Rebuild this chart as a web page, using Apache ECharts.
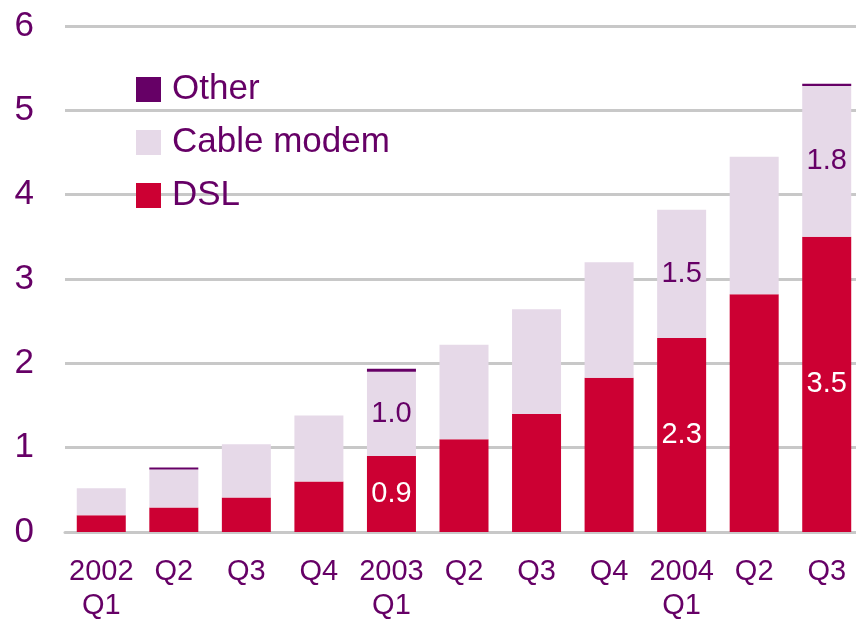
<!DOCTYPE html>
<html>
<head>
<meta charset="utf-8">
<script src="https://cdn.jsdelivr.net/npm/echarts@6/dist/echarts.min.js"></script>
<style>
  html, body { margin: 0; padding: 0; background: #fff; overflow: hidden; }
  #main { width: 870px; height: 623px; }
</style>
</head>
<body>
<div id="main"></div>
<script>
var categories = ['2002\nQ1', 'Q2', 'Q3', 'Q4', '2003\nQ1', 'Q2', 'Q3', 'Q4', '2004\nQ1', 'Q2', 'Q3'];
var dsl   = [0.20, 0.29, 0.41, 0.60, 0.90, 1.10, 1.40, 1.83, 2.30, 2.82, 3.50];
var cable = [0.32, 0.45, 0.63, 0.78, 1.00, 1.12, 1.24, 1.37, 1.52, 1.63, 1.79];
var other = [0, 0.025, 0, 0, 0.035, 0, 0, 0, 0, 0, 0.025];
// which bars carry a value label
var dslLabelIdx = [4, 8, 10];
var cableLabelIdx = [4, 8, 10];

var purple = '#660066';
var font = '"Liberation Sans", Arial, sans-serif';

var myChart = echarts.init(document.getElementById('main'));

function pick(idx) {
  return function (p) {
    return idx.indexOf(p.dataIndex) >= 0 ? p.value.toFixed(1) : '';
  };
}

var option = {
  animation: false,
  textStyle: { fontFamily: font },
  grid: { left: 65, top: 26, width: 798, height: 509 },
  legend: {
    orient: 'vertical',
    left: 136,
    top: 72,
    padding: 0,
    itemWidth: 25,
    itemHeight: 25,
    itemGap: 18,
    icon: 'rect',
    data: ['Other', 'Cable modem', 'DSL'],
    textStyle: { color: purple, fontSize: 35, fontFamily: font, padding: [0, 0, 0, 6] }
  },
  xAxis: {
    type: 'category',
    data: categories,
    axisLine: { lineStyle: { color: '#c8c8c8', width: 3 } },
    axisTick: { length: 8, lineStyle: { color: '#c8c8c8', width: 3 } },
    axisLabel: { color: purple, fontSize: 29, lineHeight: 34, margin: 23, fontFamily: font, interval: 0 }
  },
  yAxis: {
    type: 'value',
    min: 0,
    max: 6,
    interval: 1,
    axisLine: { show: false },
    axisTick: { show: false },
    splitLine: { lineStyle: { color: '#c8c8c8', width: 3 } },
    axisLabel: { color: purple, fontSize: 35, margin: 31, fontFamily: font }
  },
  series: [
    {
      name: 'DSL', type: 'bar', stack: 'total', barWidth: 49,
      itemStyle: { color: '#cc0033' },
      label: { show: true, position: 'inside', color: '#fff', fontSize: 29, fontFamily: font, formatter: pick(dslLabelIdx) },
      data: dsl
    },
    {
      name: 'Cable modem', type: 'bar', stack: 'total', barWidth: 49,
      itemStyle: { color: '#e6d9e8' },
      label: { show: true, position: 'inside', color: purple, fontSize: 29, fontFamily: font, formatter: pick(cableLabelIdx) },
      data: cable
    },
    {
      name: 'Other', type: 'bar', stack: 'total', barWidth: 49,
      itemStyle: { color: purple },
      data: other
    }
  ]
};
myChart.setOption(option);
</script>
</body>
</html>
